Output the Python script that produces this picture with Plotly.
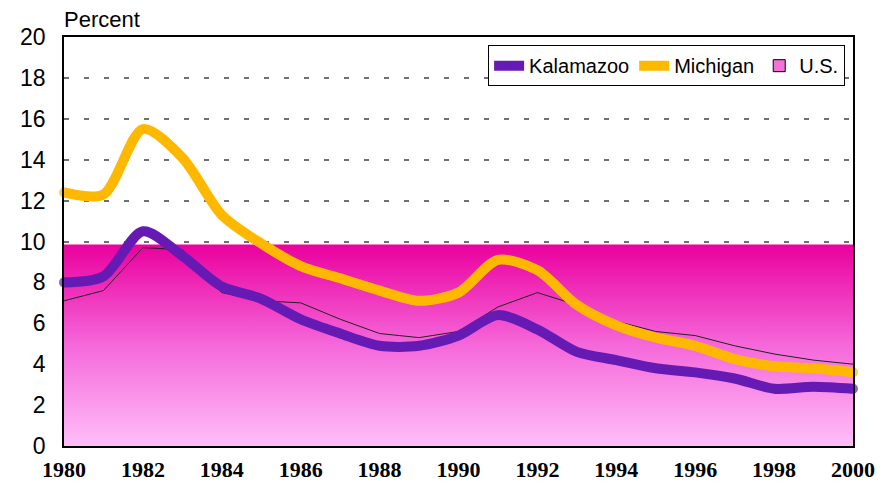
import plotly.graph_objects as go

years = list(range(1980, 2001))
kalamazoo = [8.0, 8.3, 10.5, 9.3, 7.8, 7.2, 6.2, 5.5, 4.9, 4.9, 5.4, 6.4, 5.7, 4.6, 4.2, 3.8, 3.6, 3.3, 2.8, 2.9, 2.8]
michigan = [12.4, 12.3, 15.5, 14.1, 11.3, 9.9, 8.8, 8.2, 7.6, 7.1, 7.5, 9.1, 8.6, 6.9, 5.9, 5.3, 4.9, 4.25, 3.9, 3.8, 3.6]
us = [7.1, 7.6, 9.7, 9.6, 7.5, 7.1, 7.0, 6.2, 5.5, 5.3, 5.6, 6.8, 7.5, 6.9, 6.1, 5.6, 5.4, 4.9, 4.5, 4.2, 4.0]
us_area_top = 9.85
y_ticks = [0, 2, 4, 6, 8, 10, 12, 14, 16, 18, 20]
x_ticks = list(range(1980, 2001, 2))

PURPLE = "#661AB4"
ORANGE = "#FFB800"
PINK_SCALE = [[0, "#FFBEF9"], [0.5, "#F568DA"], [1, "#EA009E"]]

fig = go.Figure()

# U.S. shaded area (gradient)
fig.add_trace(go.Scatter(
    x=years, y=[us_area_top] * len(years), mode="none", fill="tozeroy",
    fillgradient=dict(type="vertical", colorscale=PINK_SCALE, start=0, stop=us_area_top),
    showlegend=False, hoverinfo="skip",
))
# U.S. thin line
fig.add_trace(go.Scatter(
    x=years, y=us, mode="lines", showlegend=False,
    line=dict(width=1, color="#222222"),
))
end_sizes = [10] + [0] * (len(years) - 2) + [10]
fig.add_trace(go.Scatter(
    x=years, y=michigan, name="Michigan", mode="lines+markers",
    line=dict(width=10, color=ORANGE, shape="spline", smoothing=0.8),
    marker=dict(size=end_sizes, color=ORANGE, line=dict(width=0)),
    cliponaxis=False, legendrank=2,
))
fig.add_trace(go.Scatter(
    x=years, y=kalamazoo, name="Kalamazoo", mode="lines+markers",
    line=dict(width=10, color=PURPLE, shape="spline", smoothing=0.8),
    marker=dict(size=end_sizes, color=PURPLE, line=dict(width=0)),
    cliponaxis=False, legendrank=1,
))
# legend entry for U.S. (box symbol)
fig.add_trace(go.Bar(
    x=[None], y=[None], name="U.S.",
    marker=dict(color="#F472D8", line=dict(color="black", width=1)),
    legendrank=3, hoverinfo="skip",
))

fig.update_layout(
    width=890, height=483,
    margin=dict(l=64, r=37, t=37, b=37, autoexpand=False),
    paper_bgcolor="white", plot_bgcolor="white",
    showlegend=True,
    legend=dict(orientation="h", x=0.99, xanchor="right", y=0.98, yanchor="top",
                bgcolor="white", bordercolor="black", borderwidth=1,
                font=dict(family="Liberation Sans, Arial", size=20, color="black"),
                tracegroupgap=0),
    annotations=[dict(text="Percent", xref="paper", yref="paper", x=0, y=1,
                      xanchor="left", yanchor="bottom", yshift=3, xshift=-2, showarrow=False,
                      font=dict(family="Liberation Sans, Arial", size=22, color="black"))],
)
fig.update_xaxes(
    range=[1980, 2000], tickvals=x_ticks, ticktext=[str(t) for t in x_ticks],
    showgrid=False, zeroline=False, showline=True, linecolor="black", linewidth=1.5,
    mirror=True, ticks="", ticklabelstandoff=3, automargin=False,
    tickfont=dict(family="Liberation Serif, Times New Roman", size=22, color="black", weight="bold"),
)
fig.update_yaxes(
    range=[0, 20], tickvals=y_ticks,
    showgrid=True, gridcolor="#707070", gridwidth=1.5, griddash="5px,15px",
    zeroline=False, showline=True, linecolor="black", linewidth=1.5,
    mirror=True, ticks="", ticklabelstandoff=12, automargin=False,
    tickfont=dict(family="Liberation Sans, Arial", size=23, color="black"),
)

fig.write_html("out.html", config={"displayModeBar": False},
               post_script="document.body.style.margin='0';document.body.style.overflow='hidden';")
